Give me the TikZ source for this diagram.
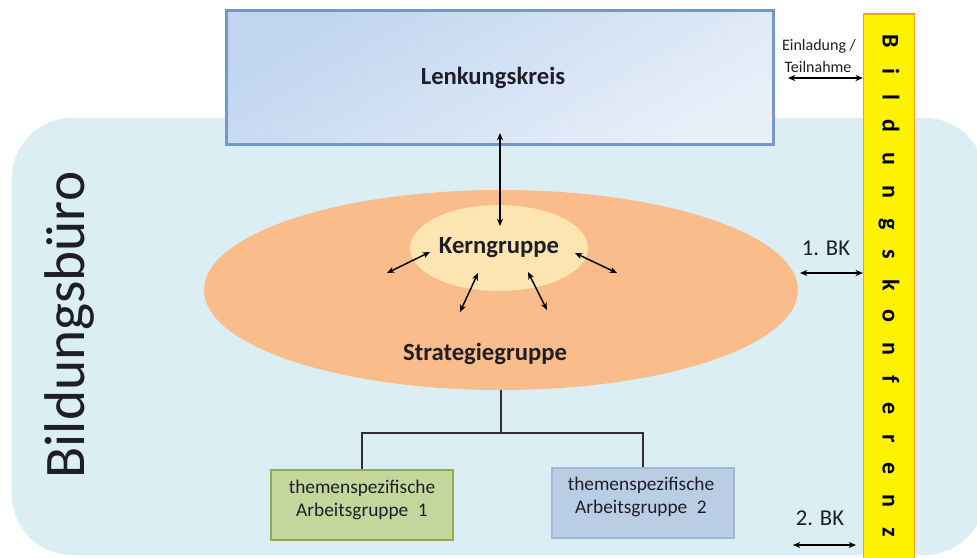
\documentclass[tikz,border=0pt]{standalone}
\usepackage{fontspec}
\setmainfont{Carlito}
\usetikzlibrary{shapes.geometric,arrows.meta}
\definecolor{bbfill}{HTML}{DAEEF3}
\definecolor{lkA}{HTML}{C0D5EF}
\definecolor{lkB}{HTML}{E8EFF9}
\definecolor{lkborder}{HTML}{7398CA}
\definecolor{strfill}{HTML}{F9BC8A}
\definecolor{kernfill}{HTML}{FDE5B2}
\definecolor{agAfill}{HTML}{C3D69B}
\definecolor{agAborder}{HTML}{8FAA55}
\definecolor{agBfill}{HTML}{B9CDE5}
\definecolor{agBborder}{HTML}{9DB8DC}
\definecolor{konfborder}{HTML}{F2A20C}
\definecolor{txt}{HTML}{1E1E28}
\definecolor{treeline}{HTML}{2E2E2E}
\begin{document}
\begin{tikzpicture}[x=0.75pt,y=-0.75pt,
  dblarrow/.style={{Stealth[length=5.5pt,width=4.6pt]}-{Stealth[length=5.5pt,width=4.6pt]}, line width=1.1pt, draw=black},
  bigtext/.style={font=\fontsize{18.5}{20}\selectfont\bfseries, text=txt},
  smalltext/.style={font=\fontsize{12}{13}\selectfont, text=txt},
  bktext/.style={font=\fontsize{17}{18}\selectfont, text=txt},
  agbox/.style={rectangle, line width=1.5pt, inner sep=0pt, minimum width=136.5pt, minimum height=52.5pt},
  agtext/.style={font=\fontsize{14.5}{17.5}\selectfont, text=txt, align=center},
  tree/.style={draw=treeline, line width=1.5pt}]
\useasboundingbox (0,0) rectangle (977,557);
% Bildungsbuero background
\node[rectangle, rounded corners=45pt, fill=bbfill, inner sep=0pt,
  minimum width=729.75pt, minimum height=327.75pt] (bb) at (498.5,336.5) {};
\node[rotate=90, font=\fontsize{43}{44}\selectfont, text=txt] (bbtxt) at (70,325) {Bildungsbüro};
% Lenkungskreis
\node[rectangle, draw=lkborder, line width=2.25pt, top color=lkA, bottom color=lkB, shading angle=30,
  minimum width=410.25pt, minimum height=100.5pt, inner sep=0pt] (lk) at (500,77.5) {};
\node[bigtext] (lktxt) at (493,78) {Lenkungskreis};
% Strategiegruppe
\node[ellipse, fill=strfill, inner sep=0pt, minimum width=445.5pt, minimum height=150pt] (strat) at (501,290) {};
\node[bigtext] (strattxt) at (485,354) {Strategiegruppe};
% Kerngruppe
\node[ellipse, fill=kernfill, inner sep=0pt, minimum width=133.5pt, minimum height=64.5pt, bigtext] (kern) at (499,248) {Kerngruppe};
% arrows
\coordinate (v1) at (500,133);
\coordinate (v2) at (500,226);
\draw[dblarrow] (v1) -- (v2);
\coordinate (k1a) at (430,252); \coordinate (k1b) at (387,273);
\coordinate (k2a) at (478,273); \coordinate (k2b) at (460,312);
\coordinate (k3a) at (528,272); \coordinate (k3b) at (547,310);
\coordinate (k4a) at (575,253); \coordinate (k4b) at (617,273);
\draw[dblarrow] (k1a) -- (k1b);
\draw[dblarrow] (k2a) -- (k2b);
\draw[dblarrow] (k3a) -- (k3b);
\draw[dblarrow] (k4a) -- (k4b);
% Arbeitsgruppen
\node[agbox, fill=agAfill, draw=agAborder] (ag1) at (362,505) {};
\node[agtext] (ag1t) at (362,500) {themenspezifische\\Arbeitsgruppe\enspace 1};
\node[agbox, fill=agBfill, draw=agBborder] (ag2) at (643,502.5) {};
\node[agtext] (ag2t) at (641,497) {themenspezifische\\Arbeitsgruppe\enspace 2};
\coordinate (junc) at (501,433);
\draw[tree] (strat.south) -- (junc);
\draw[tree] (ag1.north) |- (junc) -| (ag2.north);
% Bildungskonferenz bar
\node[rectangle, fill=yellow, draw=konfborder, line width=1pt, inner sep=0pt,
  minimum width=38.25pt, minimum height=420pt] (konf) at (889,294) {};
\node[rotate=-90, font=\fontsize{18}{19}\selectfont\bfseries\addfontfeature{LetterSpace=83}, text=black] (konftxt) at (889,286) {Bildungskonferenz};
% side labels
\node[smalltext] (einl) at (819,46) {Einladung /};
\node[smalltext] (teil) at (818,67) {Teilnahme};
\coordinate (e1) at (788,78);
\draw[dblarrow] (e1) -- (e1 -| konf.west);
\node[bktext] (bk1) at (826,248) {1. BK};
\coordinate (b1) at (800,273);
\draw[dblarrow] (b1) -- (b1 -| konf.west);
\node[bktext] (bk2) at (820,518) {2. BK};
\coordinate (b2a) at (793,545);
\coordinate (b2b) at (856,545);
\draw[dblarrow] (b2a) -- (b2b);
\end{tikzpicture}
\end{document}
